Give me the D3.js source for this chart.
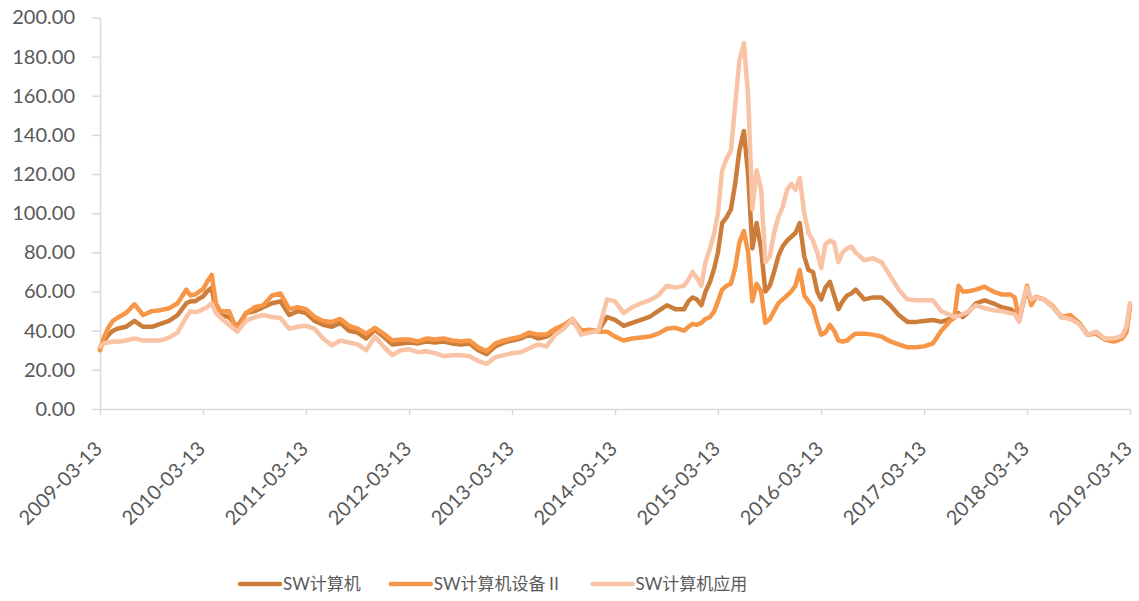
<!DOCTYPE html>
<html>
<head>
<meta charset="utf-8">
<script src="https://cdn.jsdelivr.net/npm/d3@7"></script>
<style>
  body { margin: 0; background: #fff; }
  text { font-family: Lato, "Noto Sans CJK SC", sans-serif; }
</style>
</head>
<body>
<div id="container"></div>
<script>
/* DATA */
const dates = [
  "2009-03-13","2009-03-28","2009-04-13","2009-04-28","2009-05-13","2009-06-13","2009-07-13","2009-08-13","2009-09-13","2009-10-13",
  "2009-11-13","2009-12-13","2010-01-13","2010-01-28","2010-02-13","2010-02-28","2010-03-13","2010-03-28","2010-04-13","2010-04-28",
  "2010-05-13","2010-06-13","2010-07-13","2010-08-13","2010-09-13","2010-10-13","2010-11-13","2010-12-13","2011-01-13","2011-02-13",
  "2011-03-13","2011-04-13","2011-05-13","2011-06-13","2011-07-13","2011-08-13","2011-09-13","2011-10-13","2011-11-13","2011-12-13",
  "2012-01-13","2012-02-13","2012-03-13","2012-04-13","2012-05-13","2012-06-13","2012-07-13","2012-08-13","2012-09-13","2012-10-13",
  "2012-11-13","2012-12-13","2013-01-13","2013-02-13","2013-03-13","2013-04-13","2013-05-13","2013-06-13","2013-07-13","2013-08-13",
  "2013-09-13","2013-10-13","2013-11-13","2013-12-13","2014-01-13","2014-02-13","2014-03-13","2014-04-13","2014-05-13","2014-06-13",
  "2014-07-13","2014-08-13","2014-09-13","2014-10-13","2014-11-13","2014-11-28","2014-12-13","2014-12-28","2015-01-13","2015-01-28",
  "2015-02-13","2015-02-28","2015-03-13","2015-03-28","2015-04-13","2015-04-28","2015-05-13","2015-05-28","2015-06-13","2015-06-28",
  "2015-07-13","2015-07-28","2015-08-13","2015-08-28","2015-09-13","2015-09-28","2015-10-13","2015-10-28","2015-11-13","2015-11-28",
  "2015-12-13","2015-12-28","2016-01-13","2016-01-28","2016-02-13","2016-02-28","2016-03-13","2016-03-28","2016-04-13","2016-04-28",
  "2016-05-13","2016-05-28","2016-06-13","2016-06-28","2016-07-13","2016-08-13","2016-09-13","2016-10-13","2016-11-13","2016-12-13",
  "2017-01-13","2017-02-13","2017-03-13","2017-04-13","2017-05-13","2017-06-13","2017-06-28","2017-07-13","2017-07-28","2017-08-13",
  "2017-09-13","2017-10-13","2017-11-13","2017-12-13","2018-01-13","2018-01-28","2018-02-13","2018-02-28","2018-03-13","2018-03-28",
  "2018-04-13","2018-05-13","2018-06-13","2018-07-13","2018-08-13","2018-09-13","2018-10-13","2018-11-13","2018-12-13","2019-01-13",
  "2019-01-28","2019-02-13","2019-02-28","2019-03-13"
];

// SW计算机
const swComputer = [
  31,35,38,40,41,42,45,42,42,43.5,
  45,48,54,55,55,56.5,57.5,60,62,50,
  48,47,42,49,50,52,54,55,48,50,
  49,45,43,42,44,40,39,36,40.5,37,
  33,33.5,34,33.5,34.5,34,34.5,33.5,33,33.5,
  30,28,32,34,35,36,38,36,37,40,
  42.5,45,40,40,40,47,45.5,42.5,44,45.5,
  47,50,53,51,51,55,57,56,53,60,
  65,72,80,95,98,102,115,132,142,120,
  82,95,82,60,63,70,78,83,86,88,
  90,95,78,71,70,60,56,62,65,58,
  51,55,58,59,61,56,57,57,53,48,
  44.5,44.5,45,45.5,44.5,46,48,49,47,49,
  54,55.5,54,52,51,49.5,45,55,62,54,
  57,56,52,47,47.5,44,38,38.5,36,35,
  35.5,36.5,40,53
];

// SW计算机设备Ⅱ
const swDevice = [
  30,37,42,45,46.5,49,53.5,48,50,50.5,
  51.5,54,61,58,58.5,60,61,65,68.5,54,
  50,50,40,49,52,53,58,59,51,52,
  51,47,45,44.5,46,42.5,41,38.5,41.5,38.5,
  35,35.5,35.5,34.5,36,35.5,36,35,34.5,35,
  31.5,29.5,33.5,35,36,37,39,38,38,41,
  43,46,40,40.5,39.5,39.5,37,35,36,36.5,
  37,38.5,41,41.5,40,42,43.5,43,44,46,
  47,50,55,61,63,64,72,85,91,80,
  55,64,60,44,46,50,54,56,58,60,
  63,71,58,55,52,44,38,39,43,40,
  35,34.5,35,37,38.5,38.5,38,37,34.5,33,
  31.5,31.5,32,33.5,40,45,46.5,63,60,60,
  61,62.5,60,58.5,58.5,57,46,55,63,53,
  57.3,56,52.5,47,48,44,38,38.5,35.5,34.5,
  35,36,39,52
];

// SW计算机应用
const swApp = [
  32,33.5,34,34.5,34.4,35,36,35,35,35,
  36.5,39,47,50,49.5,50,51,52,54,49,
  47,43,39.5,45,47,48,47,46.5,41,42,
  42.5,41,36,32.5,35,34,33,30,37,32,
  27.5,30,30.5,29,29.5,28.5,27,27.5,27.5,27,
  24.5,23,26.5,27.5,28.5,29,31,33,32,38,
  41,46,38,39,40,56,55,49,52,54,
  55.5,58,63,62,63,66,70,67,63,75,
  82,90,100,122,128,132,155,178,187,160,
  102,122,112,75,78,90,98,103,112,115,
  112,118,100,90,86,80,72,84,86,85,
  75,80,82,83,80,76,77,75,68,61,
  56,55.5,55.5,55.5,50,48,47,47.5,48.5,49.5,
  53,51.5,50.5,50,49,48.5,44.5,56,62,56,
  57,56,52,47,46,43.5,38,39.5,36,36,
  36.5,37.5,42,54
];

const seriesNames = ["SW计算机", "SW计算机设备Ⅱ", "SW计算机应用"];
const seriesColors = ["#CD7D3A", "#F79646", "#F9C3A6"];
const yTicks = [0, 20, 40, 60, 80, 100, 120, 140, 160, 180, 200];
const xTickLabels = ["2009-03-13","2010-03-13","2011-03-13","2012-03-13","2013-03-13","2014-03-13",
  "2015-03-13","2016-03-13","2017-03-13","2018-03-13","2019-03-13"];

/* CONSTANTS */
const width = 1139,
  height = 601,
  margin = { top: 17.5, bottom: 192, left: 100, right: 9 };

const parse = d3.timeParse("%Y-%m-%d");
const allSeries = [swComputer, swDevice, swApp].map((vals, i) => ({
  name: seriesNames[i],
  color: seriesColors[i],
  values: vals.map((v, j) => ({ date: parse(dates[j]), value: v }))
}));

// SCALES
const xScale = d3.scaleTime()
  .domain([parse(xTickLabels[0]), parse(xTickLabels[xTickLabels.length - 1])])
  .range([margin.left, width - margin.right]);

const yScale = d3.scaleLinear()
  .domain([0, 200])
  .range([height - margin.bottom, margin.top]);

// SVG
const svg = d3.select("#container")
  .append("svg")
  .attr("width", width)
  .attr("height", height);

// AXES
const yAxis = d3.axisLeft(yScale)
  .tickValues(yTicks)
  .tickFormat(d3.format(".2f"))
  .tickSize(8)
  .tickSizeOuter(0)
  .tickPadding(17);

const xAxis = d3.axisBottom(xScale)
  .tickValues(xTickLabels.map(parse))
  .tickFormat(d3.timeFormat("%Y-%m-%d"))
  .tickSize(6)
  .tickSizeOuter(0);

const gy = svg.append("g")
  .attr("transform", `translate(${margin.left},0)`)
  .call(yAxis);

const gx = svg.append("g")
  .attr("transform", `translate(0,${height - margin.bottom})`)
  .call(xAxis);

[gx, gy].forEach(g => {
  g.selectAll("path, line").attr("stroke", "#D9D9D9").attr("stroke-width", 1.5);
  g.selectAll("text").attr("fill", "#595959").style("font-size", "20px");
});

gx.selectAll("text")
  .attr("x", 0)
  .attr("y", 0)
  .attr("dy", 0)
  .attr("text-anchor", "end")
  .attr("transform", "translate(3,41) rotate(-45)");

// LINES
const line = d3.line()
  .x(d => xScale(d.date))
  .y(d => yScale(d.value));

svg.selectAll("path.series")
  .data(allSeries)
  .join("path")
  .attr("class", "series")
  .attr("d", d => line(d.values))
  .attr("fill", "none")
  .attr("stroke", d => d.color)
  .attr("stroke-width", 4.5)
  .attr("stroke-linejoin", "round")
  .attr("stroke-linecap", "round");

// LEGEND
const legend = svg.append("g").attr("transform", "translate(0,584)");
let lx = 240;
allSeries.forEach(s => {
  legend.append("line")
    .attr("x1", lx).attr("x2", lx + 40)
    .attr("y1", 0).attr("y2", 0)
    .attr("stroke", s.color)
    .attr("stroke-width", 4.5)
    .attr("stroke-linecap", "round");
  const t = legend.append("text")
    .attr("x", lx + 43)
    .attr("dy", "0.35em")
    .attr("fill", "#595959")
    .style("font-size", "17px")
    .text(s.name);
  lx += 43 + t.node().getComputedTextLength() + 30;
});
</script>
</body>
</html>
